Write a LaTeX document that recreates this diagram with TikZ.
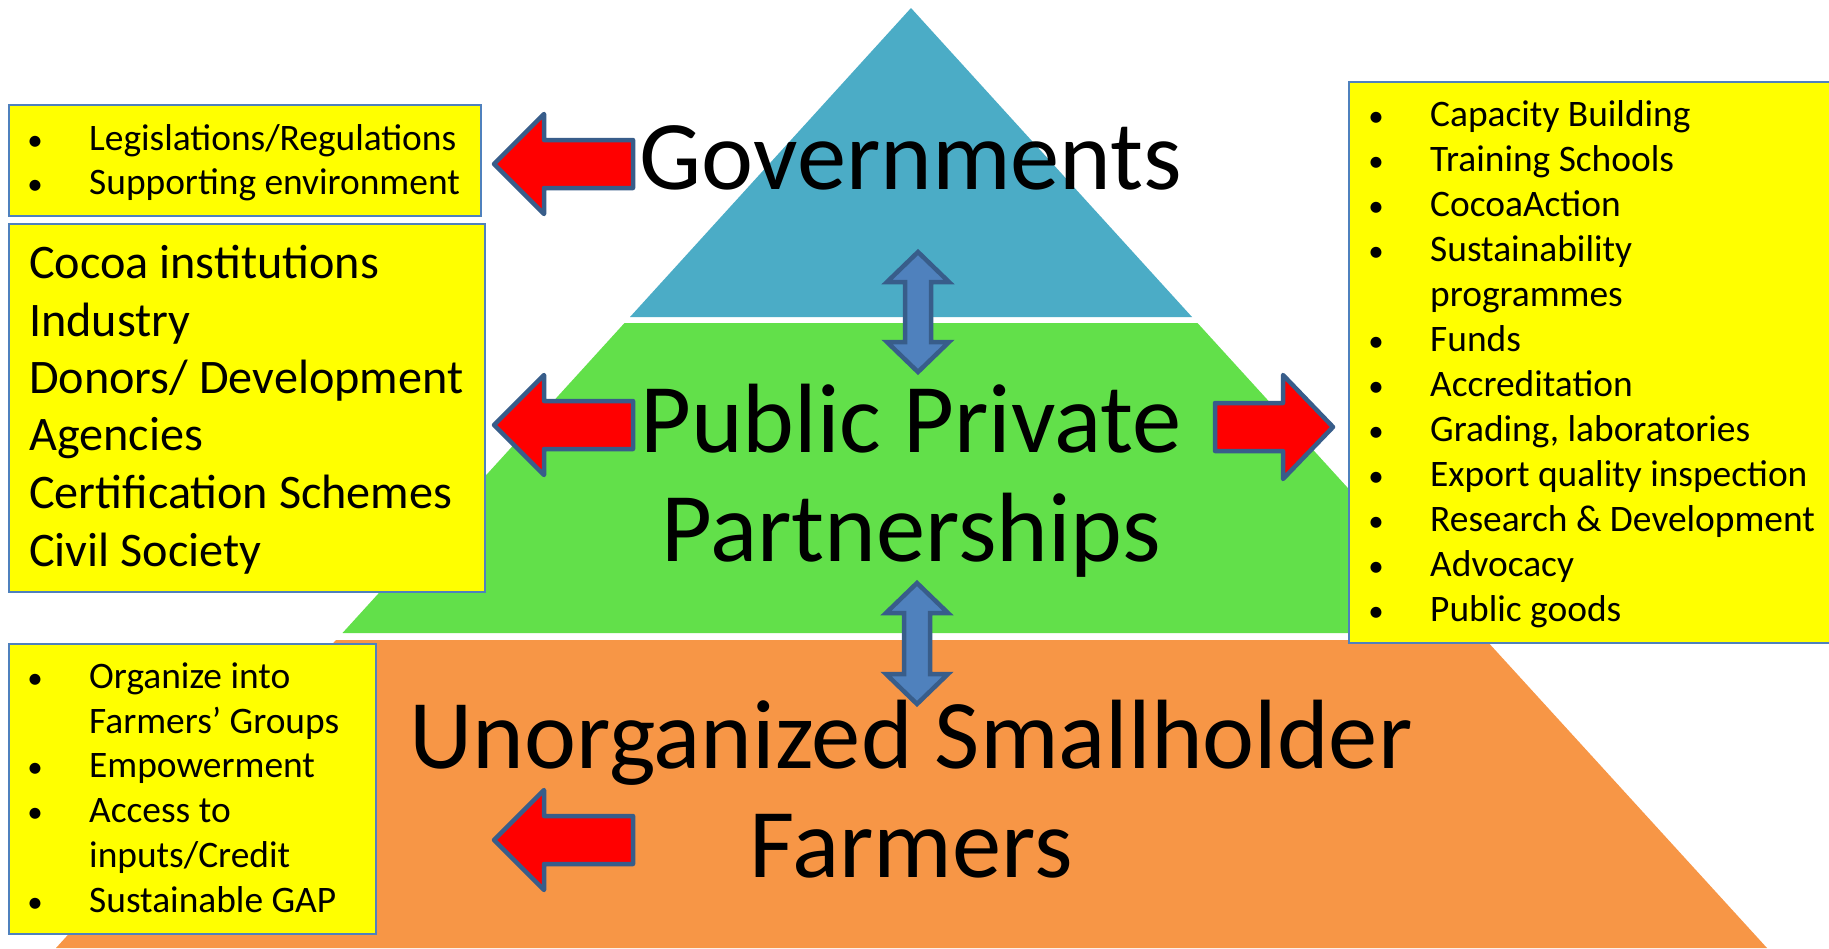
\documentclass[tikz,border=0pt]{standalone}
\usepackage{fontspec}
\setmainfont{Carlito}
\definecolor{blueband}{HTML}{4BACC6}
\definecolor{greenband}{HTML}{62E04A}
\definecolor{orangeband}{HTML}{F79646}
\definecolor{boxyellow}{HTML}{FFFF00}
\definecolor{boxline}{HTML}{4F81BD}
\definecolor{arrowline}{HTML}{385D8A}
\definecolor{arrowfill}{HTML}{4F81BD}
\begin{document}
\begin{tikzpicture}[x=1pt,y=-1pt,
  listbox/.style={fill=boxyellow,draw=boxline,line width=1.6pt},
  redarrow/.style={fill=red,draw=arrowline,line width=4.5pt,line join=round},
  bluearrow/.style={fill=arrowfill,draw=arrowline,line width=4.5pt,line join=miter},
  bigtext/.style={font=\fontsize{98.5}{110}\selectfont,inner sep=0pt,anchor=base},
  itemtext/.style={font=\fontsize{37.4}{44}\selectfont,inner sep=0pt,anchor=base west},
  bullettext/.style={font=\fontsize{31}{44}\selectfont,inner sep=0pt,anchor=base},
  midtext/.style={font=\fontsize{48.2}{57}\selectfont,inner sep=0pt,anchor=base west}]
\useasboundingbox (0,0) rectangle (1829,948);
\clip (0,0) rectangle (1829,948);
\fill[white] (0,0) rectangle (1829,948);

% pyramid bands
\fill[blueband] (911,8) -- (1192,317) -- (630,317) -- cycle;
\fill[greenband] (624.5,323) -- (1197.5,323) -- (1480,633) -- (342.5,633) -- cycle;
\fill[orangeband] (336,640) -- (1486,640) -- (1767,948) -- (56,948) -- cycle;

% yellow boxes
\draw[listbox] (9,105) rectangle (481,216);
\draw[listbox] (9,224) rectangle (485,592);
\draw[listbox] (9,644) rectangle (376,934);
\draw[listbox] (1349,82) rectangle (1840,643);

% red arrows
\foreach \cy/\nm in {164/g,425/p,840/f}{
  \draw[redarrow] (494,\cy) -- (544,\cy-50) -- (544,\cy-24) -- (633,\cy-24)
     -- (633,\cy+24) -- (544,\cy+24) -- (544,\cy+50) -- cycle;
}
\draw[redarrow] (1333,427) -- (1283,375) -- (1283,403) -- (1215,403)
   -- (1215,451) -- (1283,451) -- (1283,479) -- cycle;

% blue double arrows
\draw[bluearrow] (918,252) -- (949,282) -- (931,282) -- (931,342) -- (949,342)
   -- (918,372) -- (887,342) -- (905,342) -- (905,282) -- (887,282) -- cycle;
\draw[bluearrow] (917,583) -- (948,613) -- (930,613) -- (930,674) -- (948,674)
   -- (917,704) -- (886,674) -- (904,674) -- (904,613) -- (886,613) -- cycle;

% big labels
\node[bigtext] (gov) at (911,189) {Governments};
\node[bigtext] (ppp1) at (911,452) {Public Private};
\node[bigtext] (ppp2) at (911,561) {Partnerships};
\node[bigtext] (usf1) at (911,768) {Unorganized Smallholder};
\node[bigtext] (usf2) at (911,877) {Farmers};

% box 1
\node[bullettext] (b1a) at (35,150) {•};
\node[itemtext] (t1a) at (89,150) {Legislations/Regulations};
\node[bullettext] (b1b) at (35,194) {•};
\node[itemtext] (t1b) at (89,194) {Supporting environment};

% box 2
\node[midtext] (t2a) at (29,278) {Cocoa institutions};
\node[midtext] (t2b) at (29,336) {Industry};
\node[midtext] (t2c) at (29,393) {Donors/ Development};
\node[midtext] (t2d) at (29,450) {Agencies};
\node[midtext] (t2e) at (29,508) {Certification Schemes};
\node[midtext] (t2f) at (29,566) {Civil Society};

% box 3
\node[bullettext] (b3a) at (35,688) {•};
\node[itemtext] (t3a) at (89,688) {Organize into};
\node[itemtext] (t3b) at (89,733) {Farmers’ Groups};
\node[bullettext] (b3c) at (35,777) {•};
\node[itemtext] (t3c) at (89,777) {Empowerment};
\node[bullettext] (b3d) at (35,822) {•};
\node[itemtext] (t3d) at (89,822) {Access to};
\node[itemtext] (t3e) at (89,867) {inputs/Credit};
\node[bullettext] (b3f) at (35,912) {•};
\node[itemtext] (t3f) at (89,912) {Sustainable GAP};

% right box
\foreach \i/\txt/\bul in {0/Capacity Building/1,1/Training Schools/1,2/CocoaAction/1,
  3/Sustainability/1,4/programmes/0,5/Funds/1,6/Accreditation/1,
  7/{Grading, laboratories}/1,8/Export quality inspection/1,
  9/Research \& Development/1,10/Advocacy/1,11/Public goods/1}{
  \pgfmathsetmacro{\yy}{126+45*\i}
  \node[itemtext] (r\i) at (1430,\yy) {\txt};
  \ifnum\bul=1 \node[bullettext] (rb\i) at (1376,\yy) {•};\fi
}
\end{tikzpicture}
\end{document}
